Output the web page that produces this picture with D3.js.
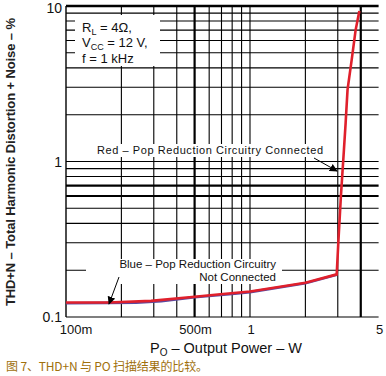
<!DOCTYPE html>
<html>
<head>
<meta charset="utf-8">
<script src="https://cdn.jsdelivr.net/npm/d3@7"></script>
<style>
  body { margin: 0; background: #fff; }
  svg text { font-family: "Liberation Sans", Arial, sans-serif; }
</style>
</head>
<body>
<div id="chart"></div>
<script>
// output power (W) vs THD+N (%)
var redPower = [0.1, 0.17, 0.29, 0.5, 0.69, 1, 2, 2.96, 3.02, 3.12, 3.24, 3.31, 3.39, 3.57, 3.75, 3.93];
var redThd   = [0.124, 0.124, 0.127, 0.135, 0.14, 0.146, 0.166, 0.188, 0.3, 0.6, 1.19, 1.77, 2.9, 4.5, 7.0, 9.3];
var bluePower = [0.1, 0.17, 0.24, 0.33, 0.5, 0.8, 1, 2, 2.96];
var blueThd   = [0.1225, 0.1232, 0.1238, 0.1262, 0.134, 0.1405, 0.1445, 0.165, 0.187];

var xGrid = [0.2, 0.3, 0.4, 0.5, 0.6, 0.7, 0.8, 0.9, 1, 2, 3, 4];
var xThick = [0.5, 4];
var yGrid = [0.2, 0.3, 0.4, 0.5, 0.6, 0.7, 0.8, 0.9, 1, 2, 3, 4, 5, 6, 7, 8, 9];
var yThick = [0.6, 0.7];
var xTicks = [0.1, 0.5, 1, 5];
var xTickLabels = ["100m", "500m", "1", "5"];
var yTicks = [0.1, 1, 10];
var yTickLabels = ["0.1", "1", "10"];

function buildchart(){
    var width = 386, height = 376;
    var x = d3.scaleLog().domain([0.1, 5]).range([66, 378.6]);
    var y = d3.scaleLog().domain([0.1, 10]).range([317, 6]);

    var svg = d3.select("#chart")
        .append("svg")
        .attr("width", width)
        .attr("height", height);

    var grid = svg.append("g");

    grid.selectAll(".vline")
        .data(xGrid)
        .enter()
        .append("line")
        .attr("x1", function(d){ return x(d) })
        .attr("x2", function(d){ return x(d) })
        .attr("y1", y(10))
        .attr("y2", y(0.1))
        .attr("stroke", "#000")
        .attr("stroke-width", function(d){ return xThick.indexOf(d) >= 0 ? 2.2 : 1.1 })

    grid.selectAll(".hline")
        .data(yGrid)
        .enter()
        .append("line")
        .attr("x1", x(0.1))
        .attr("x2", x(5))
        .attr("y1", function(d){ return y(d) })
        .attr("y2", function(d){ return y(d) })
        .attr("stroke", "#000")
        .attr("stroke-width", function(d){ return yThick.indexOf(d) >= 0 ? 2.2 : 1.1 })

    // frame: thick top, thin left and bottom
    grid.append("line").attr("x1", x(0.1)).attr("x2", x(5)).attr("y1", y(10)).attr("y2", y(10))
        .attr("stroke", "#000").attr("stroke-width", 2.4);
    grid.append("line").attr("x1", x(0.1)).attr("x2", x(5)).attr("y1", y(0.1)).attr("y2", y(0.1))
        .attr("stroke", "#000").attr("stroke-width", 1.2);
    grid.append("line").attr("x1", x(0.1)).attr("x2", x(0.1)).attr("y1", y(10)).attr("y2", y(0.1))
        .attr("stroke", "#000").attr("stroke-width", 1.4);

    // white boxes under the notes
    svg.append("rect").attr("x", 75).attr("y", 15).attr("width", 85).attr("height", 51).attr("fill", "#fff");
    svg.append("rect").attr("x", 95).attr("y", 144).attr("width", 230).attr("height", 13).attr("fill", "#fff");
    svg.append("rect").attr("x", 86).attr("y", 259).attr("width", 196).attr("height", 25).attr("fill", "#fff");

    var line = d3.line()
        .x(function(d){ return x(d[0]) })
        .y(function(d){ return y(d[1]) });

    svg.append("path")
        .datum(d3.zip(bluePower, blueThd))
        .attr("d", line)
        .attr("fill", "none")
        .attr("stroke", "#5a4aa0")
        .attr("stroke-width", 2.6);

    svg.append("path")
        .datum(d3.zip(redPower, redThd))
        .attr("d", line)
        .attr("fill", "none")
        .attr("stroke", "#e0202c")
        .attr("stroke-width", 2.6);

    // conditions
    var cond = svg.append("g").attr("font-size", 13).attr("fill", "#111");
    var t1 = cond.append("text").attr("x", 82).attr("y", 32);
    t1.append("tspan").text("R");
    t1.append("tspan").attr("font-size", 9).attr("dy", 3).text("L");
    t1.append("tspan").attr("dy", -3).text(" = 4Ω,");
    var t2 = cond.append("text").attr("x", 82).attr("y", 47);
    t2.append("tspan").text("V");
    t2.append("tspan").attr("font-size", 9).attr("dy", 3).text("CC");
    t2.append("tspan").attr("dy", -3).text(" = 12 V,");
    cond.append("text").attr("x", 82).attr("y", 63).text("f = 1 kHz");

    // notes
    svg.append("text").attr("x", 97).attr("y", 154).attr("font-size", 11)
        .attr("textLength", 226).attr("fill", "#111")
        .text("Red – Pop Reduction Circuitry Connected");
    svg.append("text").attr("x", 276).attr("y", 268).attr("font-size", 11.5)
        .attr("text-anchor", "end").attr("fill", "#111")
        .text("Blue – Pop Reduction Circuitry");
    svg.append("text").attr("x", 276).attr("y", 281).attr("font-size", 11.5)
        .attr("text-anchor", "end").attr("fill", "#111")
        .text("Not Connected");

    svg.append("defs").append("marker")
        .attr("id", "head")
        .attr("viewBox", "0 0 10 10")
        .attr("refX", 9).attr("refY", 5)
        .attr("markerWidth", 8).attr("markerHeight", 8)
        .attr("markerUnits", "userSpaceOnUse")
        .attr("orient", "auto")
        .append("path").attr("d", "M0,0L10,5L0,10z").attr("fill", "#000");

    svg.append("line").attr("x1", 314).attr("y1", 158).attr("x2", 337).attr("y2", 171)
        .attr("stroke", "#000").attr("stroke-width", 1).attr("marker-end", "url(#head)");
    svg.append("line").attr("x1", 119).attr("y1", 277).attr("x2", 109).attr("y2", 304)
        .attr("stroke", "#000").attr("stroke-width", 1).attr("marker-end", "url(#head)");

    // tick labels
    svg.selectAll(".ylab")
        .data(yTicks)
        .enter()
        .append("text")
        .attr("x", 62)
        .attr("y", function(d){ return Math.max(y(d) + 5, 13) })
        .attr("text-anchor", "end")
        .attr("font-size", 14)
        .attr("fill", "#111")
        .text(function(d, i){ return yTickLabels[i] });

    svg.selectAll(".xlab")
        .data(xTicks)
        .enter()
        .append("text")
        .attr("x", function(d, i){ return i == 0 ? x(d) + 10 : x(d) + 1 })
        .attr("y", 334)
        .attr("text-anchor", "middle")
        .attr("font-size", 13)
        .attr("fill", "#111")
        .text(function(d, i){ return xTickLabels[i] });

    // axis titles
    var xt = svg.append("text").attr("x", 226).attr("y", 353).attr("text-anchor", "middle")
        .attr("font-size", 14.5).attr("fill", "#111");
    xt.append("tspan").text("P");
    xt.append("tspan").attr("font-size", 10).attr("dy", 3).text("O");
    xt.append("tspan").attr("dy", -3).text(" – Output Power – W");

    svg.append("text")
        .attr("transform", "translate(15,162) rotate(-90)")
        .attr("text-anchor", "middle")
        .attr("font-size", 13)
        .attr("font-weight", "bold")
        .attr("textLength", 288)
        .attr("fill", "#222")
        .text("THD+N – Total Harmonic Distortion + Noise – %");

    svg.append("text")
        .attr("x", 6).attr("y", 371)
        .attr("font-size", 12)
        .attr("textLength", 202)
        .attr("fill", "#a0700c")
        .style("font-family", "'Noto Sans CJK SC', sans-serif")
        .text("图 7、THD+N 与  PO 扫描结果的比较。");
}

buildchart();
</script>
</body>
</html>
